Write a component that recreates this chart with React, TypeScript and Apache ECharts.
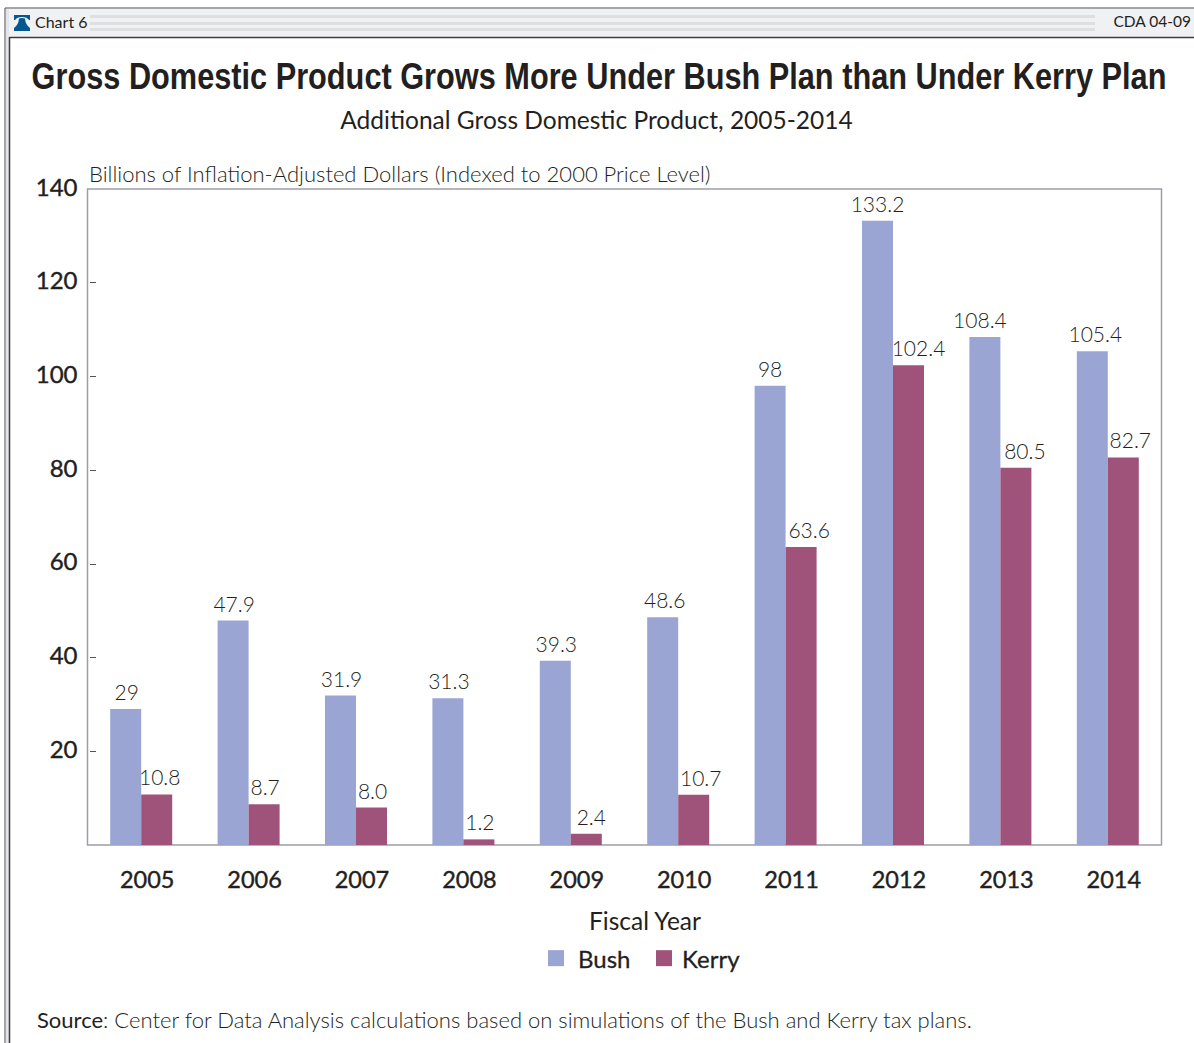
import React, { useEffect, useRef } from "react";
import * as echarts from "echarts";

const years = ["2005", "2006", "2007", "2008", "2009", "2010", "2011", "2012", "2013", "2014"];
const bushValues = [29, 47.9, 31.9, 31.3, 39.3, 48.6, 98, 133.2, 108.4, 105.4];
const kerryValues = [10.8, 8.7, 8.0, 1.2, 2.4, 10.7, 63.6, 102.4, 80.5, 82.7];
const bushLabels = ["29", "47.9", "31.9", "31.3", "39.3", "48.6", "98", "133.2", "108.4", "105.4"];
const kerryLabels = ["10.8", "8.7", "8.0", "1.2", "2.4", "10.7", "63.6", "102.4", "80.5", "82.7"];
const bushNudge = [1, 1, 1, 1, 1, 2, 0, 0, -5, 3];
const kerryNudge = [3, 1, 1, 1, 5, 7, 8, 10, 9, 7];
const tickValues = [20, 40, 60, 80, 100, 120];

const BUSH = "#9aa5d3";
const KERRY = "#a0537a";
const INK = "#231f20";
const FONT = "Lato, 'Open Sans', sans-serif";
const TITLE_FONT = "'Liberation Sans', sans-serif";

echarts.graphic.registerShape(
  "bell",
  echarts.graphic.extendPath(
    "M0 0 H16 V5 H15 Q13 2 8 2 Q3 2 1 5 H0 Z M5 3.5 Q8 2.6 11 3.5 Q11.5 10 16 13 V16 H0 V13 Q4.5 10 5 3.5 Z",
    {}
  ) as any
);

function barLabels(texts: string[], nudges: number[], values: number[]) {
  return values.map((value, i) => ({
    value,
    label: { formatter: texts[i], offset: [nudges[i], 0] },
  }));
}

function headerStripes() {
  return [15, 22, 28].map((y) => ({
    type: "rect",
    shape: { x: 90, y, width: 1005, height: 3 },
    style: { fill: "#dddfe1" },
  }));
}

function legendEntry(name: string, left: number, gap: number) {
  return {
    data: [name],
    left,
    top: 946,
    padding: 0,
    itemWidth: 16,
    itemHeight: 16,
    icon: "rect",
    selectedMode: false,
    textStyle: {
      fontFamily: FONT,
      fontSize: 24,
      color: INK,
      padding: [0, 0, 2, gap],
      textBorderColor: INK,
      textBorderWidth: 0.3,
    },
  };
}

const seriesLabel = {
  show: true,
  position: "top",
  distance: 7,
  fontFamily: FONT,
  fontWeight: 300,
  fontSize: 21,
  color: INK,
};

export default function App() {
  const ref = useRef<HTMLDivElement>(null);
  useEffect(() => {
    const chart = echarts.init(ref.current!, undefined, { renderer: "svg" });
    chart.setOption({
      animation: false,
      backgroundColor: "#fff",
      textStyle: { fontFamily: FONT },
      grid: {
        left: 87.5,
        top: 189,
        width: 1074,
        height: 656,
        show: true,
        borderColor: "#9c9ea6",
        borderWidth: 1.5,
        containLabel: false,
      },
      title: {
        text: "Additional Gross Domestic Product, 2005-2014",
        left: 591.5,
        top: 102,
        textAlign: "center",
        textStyle: { fontFamily: FONT, fontSize: 24.5, fontWeight: 400, color: INK },
      },
      legend: [legendEntry("Bush", 548, 9), legendEntry("Kerry", 656, 5)],
      xAxis: {
        type: "category",
        data: years,
        axisLine: { show: false },
        axisTick: { show: false },
        axisLabel: {
          fontFamily: FONT,
          fontSize: 23.5,
          color: INK,
          margin: 22,
          padding: [0, 0, 0, 12],
          textBorderColor: INK,
          textBorderWidth: 0.4,
        },
      },
      yAxis: [
        {
          type: "value",
          min: 0,
          max: 140,
          interval: 20,
          splitLine: { show: false },
          axisLine: { show: false },
          axisTick: { show: false },
          axisLabel: {
            fontFamily: FONT,
            fontSize: 24,
            color: INK,
            margin: 10,
            verticalAlign: "bottom",
            lineHeight: 6,
            textBorderColor: INK,
            textBorderWidth: 0.4,
            formatter: (v: number) => (v === 0 ? "" : String(v)),
          },
        },
        {
          type: "value",
          position: "left",
          offset: -2.5,
          min: 0,
          max: 140,
          interval: 20,
          splitLine: { show: false },
          axisLine: { show: false },
          axisLabel: { show: false },
          axisTick: {
            show: true,
            inside: true,
            length: 6,
            customValues: tickValues,
            lineStyle: { color: "#555", width: 1 },
          },
        },
      ],
      series: [
        {
          name: "Bush",
          type: "bar",
          barWidth: 31,
          barGap: "0%",
          itemStyle: { color: BUSH },
          label: seriesLabel,
          data: barLabels(bushLabels, bushNudge, bushValues),
        },
        {
          name: "Kerry",
          type: "bar",
          barWidth: 31,
          itemStyle: { color: KERRY },
          label: seriesLabel,
          data: barLabels(kerryLabels, kerryNudge, kerryValues),
        },
      ],
      graphic: [
        { type: "rect", shape: { x: 5, y: 8, width: 1300, height: 1200 }, style: { fill: "none", stroke: "#4a4a4a", lineWidth: 1 } },
        { type: "rect", shape: { x: 6, y: 9, width: 1188, height: 28 }, style: { fill: "#f0f1f3" } },
        { type: "rect", shape: { x: 6, y: 9, width: 3, height: 1034 }, style: { fill: "#e4e5e8" } },
        { type: "line", shape: { x1: 9.5, y1: 37.5, x2: 1194, y2: 37.5 }, style: { stroke: "#3c3c3c", lineWidth: 1.5 } },
        { type: "line", shape: { x1: 9.5, y1: 37, x2: 9.5, y2: 1043 }, style: { stroke: "#3c3c3c", lineWidth: 1.5 } },
        ...headerStripes(),
        { type: "bell", x: 14, y: 15, style: { fill: "#04578f" } },
        { type: "text", x: 35, y: 21, style: { text: "Chart 6", font: `400 16px ${FONT}`, fill: INK, verticalAlign: "middle" } },
        { type: "text", x: 1191, y: 21, style: { text: "CDA 04-09", font: `400 15.5px ${FONT}`, fill: INK, align: "right", verticalAlign: "middle" } },
        {
          type: "text",
          x: 599,
          y: 76,
          scaleX: 0.83,
          style: {
            text: "Gross Domestic Product Grows More Under Bush Plan than Under Kerry Plan",
            font: `bold 37px ${TITLE_FONT}`,
            fill: INK,
            align: "center",
            verticalAlign: "middle",
          },
        },
        { type: "text", x: 89, y: 173, style: { text: "Billions of Inflation-Adjusted Dollars (Indexed to 2000 Price Level)", font: `300 22px ${FONT}`, fill: INK, verticalAlign: "middle" } },
        { type: "text", x: 645, y: 920, style: { text: "Fiscal Year", font: `400 24.5px ${FONT}`, fill: INK, align: "center", verticalAlign: "middle" } },
        {
          type: "text",
          x: 37,
          y: 1019,
          style: {
            text: "{b|Source}{l|: Center for Data Analysis calculations based on simulations of the Bush and Kerry tax plans.}",
            verticalAlign: "middle",
            rich: {
              b: { fontFamily: FONT, fontSize: 22, fontWeight: 400, fill: INK },
              l: { fontFamily: FONT, fontSize: 22, fontWeight: 300, fill: INK },
            },
          },
        },
      ],
    });
    return () => chart.dispose();
  }, []);
  return <div ref={ref} style={{ position: "absolute", left: 0, top: 0, width: 1194, height: 1043 }} />;
}
